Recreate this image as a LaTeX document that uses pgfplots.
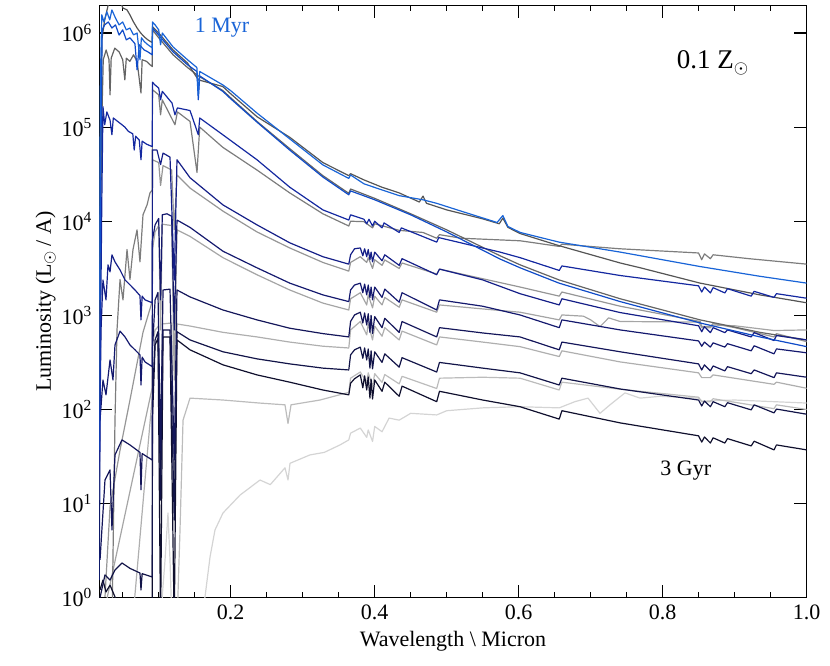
\documentclass[border=0pt]{standalone}
\usepackage{fontspec}
\setmainfont{Liberation Serif}
\usepackage{pgfplots}
\pgfplotsset{compat=1.18}
\definecolor{cblueA}{RGB}{25,100,215}
\definecolor{cblueB}{RGB}{15,75,200}
\definecolor{cnavyA}{RGB}{20,40,160}
\definecolor{cnavyB}{RGB}{20,30,135}
\definecolor{cnavyC}{RGB}{20,25,110}
\definecolor{cnavyD}{RGB}{20,22,90}
\definecolor{cnavyE}{RGB}{18,20,72}
\definecolor{cnavyF}{RGB}{15,15,45}
\definecolor{cgreyA}{RGB}{85,85,85}
\definecolor{cgreyB}{RGB}{100,100,100}
\definecolor{cgreyC}{RGB}{125,125,125}
\definecolor{cgreyD}{RGB}{150,150,150}
\definecolor{cgreyE}{RGB}{165,165,165}
\definecolor{cgreyF}{RGB}{175,175,175}
\definecolor{cgreyG}{RGB}{188,188,188}
\definecolor{cgreyH}{RGB}{212,212,212}
\begin{document}
\begin{tikzpicture}[font=\fontsize{11}{13}\selectfont]
\begin{axis}[name=ax,
  scale only axis, width=353.7pt, height=296.1pt,
  xmin=0.0175, xmax=1.0, ymode=log, ymin=1, ymax=1.96e6,
  xtick={0.2,0.4,0.6,0.8,1.0}, xticklabels={0.2,0.4,0.6,0.8,1.0},
  minor xtick={0.05,0.1,0.15,0.25,0.3,0.35,0.45,0.5,0.55,0.65,0.7,0.75,0.85,0.9,0.95},
  ytick={1,10,100,1000,10000,100000,1000000},
  yticklabels={10\textsuperscript{0},10\textsuperscript{1},10\textsuperscript{2},10\textsuperscript{3},10\textsuperscript{4},10\textsuperscript{5},10\textsuperscript{6}},
  yminorticks=false,
  tick align=inside, major tick length=6.5pt, minor tick length=3pt,
  every tick/.style={black, line width=0.6pt},
  axis line style={line width=0.6pt},
  tick label style={font=\fontsize{11}{13}\selectfont},
  label style={font=\fontsize{11}{13}\selectfont},
  xlabel={Wavelength \textbackslash\ Micron},
  ylabel={Luminosity (L\textsubscript{$\odot$}\,/ A)},
  ylabel shift=-4pt, xlabel shift=-1pt,
  every axis plot/.append style={line width=0.6pt, line join=round, no markers},
]
% vlt grey
\addplot[cgreyH] coordinates {(0.1018,0.5) (0.1088,2.52) (0.1129,7.95) (0.1157,2.52) (0.1185,0.5) (0.1574,0.5) (0.1643,1.02) (0.1713,2.71) (0.1782,5.25) (0.1893,7.95) (0.2129,12.3) (0.2407,17.8) (0.255,15.9) (0.2754,24) (0.2796,17.8) (0.2824,26.8) (0.3101,32.9) (0.33,35) (0.3518,42) (0.364,47.5) (0.3665,56) (0.38,63.5) (0.3889,50.5) (0.391,60.6) (0.397,45.7) (0.4,66) (0.4102,58) (0.42,81) (0.434,77) (0.45,91) (0.4861,87.5) (0.5,97) (0.55,104) (0.6018,107) (0.6563,104) (0.678,121) (0.6963,132) (0.7129,91) (0.7268,112) (0.7476,150) (0.7685,132) (0.7963,138) (0.85,132) (0.8542,123) (0.9,126) (1.0,117)};
% Gd
\addplot[cgreyG] coordinates {(0.1254,0.5) (0.1296,5.25) (0.1338,77) (0.1435,132) (0.1893,126) (0.24,117) (0.2754,112) (0.2796,71) (0.2838,112) (0.324,126) (0.364,152) (0.3665,215) (0.38,250) (0.3889,194) (0.391,245) (0.397,176) (0.4,240) (0.4102,194) (0.414,235) (0.434,187) (0.438,225) (0.4861,167) (0.49,215) (0.55,220) (0.6018,215) (0.6563,161) (0.66,195) (0.741,164) (0.8498,135) (0.8542,121) (0.8662,121) (0.87,130) (0.9546,102) (0.958,112) (1.0,100)};
% Gc
\addplot[cgreyF] coordinates {(0.0643,0.62) (0.0911,137) (0.0913,485) (0.095,700) (0.1,770) (0.1026,10.9) (0.105,810) (0.118,830) (0.1216,6.7) (0.1254,810) (0.1435,770) (0.1893,660) (0.2365,590) (0.282,520) (0.328,470) (0.364,450) (0.3665,700) (0.38,860) (0.3889,620) (0.391,810) (0.397,548) (0.4,770) (0.4102,600) (0.414,740) (0.434,548) (0.438,680) (0.4861,485) (0.49,590) (0.55,520) (0.6018,465) (0.6563,365) (0.66,420) (0.741,320) (0.8498,245) (0.8542,218) (0.8662,218) (0.87,233) (0.9546,185) (0.958,195) (1.0,168)};
% Gb
\addplot[cgreyE] coordinates {(0.0226,0.62) (0.0911,172) (0.0913,4960) (0.095,7700) (0.1,9000) (0.1026,700) (0.105,9300) (0.118,9000) (0.1216,206) (0.1254,8100) (0.1435,6900) (0.1893,4100) (0.2365,2700) (0.282,1860) (0.328,1350) (0.364,1140) (0.3665,1500) (0.38,1740) (0.3889,1290) (0.391,1650) (0.397,1200) (0.4,1600) (0.4102,1290) (0.414,1550) (0.434,1220) (0.438,1460) (0.4861,1080) (0.49,1290) (0.55,1170) (0.6018,1080) (0.6563,895) (0.66,1010) (0.69,980) (0.70,895) (0.713,760) (0.725,940) (0.741,860) (0.8498,850) (0.8542,740) (0.8662,740) (0.87,790) (0.9,775) (0.9546,690) (1.0,700)};
% Ga
\addplot[cgreyD] coordinates {(0.0254,1.02) (0.0324,9.2) (0.0463,37) (0.0601,126) (0.0782,660) (0.0895,1290) (0.0911,1460) (0.0913,4.5e4) (0.1,4.2e4) (0.1026,2.4e4) (0.106,3.9e4) (0.118,3.5e4) (0.1216,8100) (0.1254,3.1e4) (0.1435,2.25e4) (0.1893,1.28e4) (0.2365,7700) (0.282,5200) (0.328,3650) (0.364,2950) (0.3665,3650) (0.38,4200) (0.3889,3650) (0.391,4100) (0.397,3150) (0.4,3900) (0.4102,3400) (0.414,3880) (0.434,3150) (0.438,3600) (0.4861,2750) (0.49,3100) (0.55,2450) (0.6018,2000) (0.6563,1600) (0.66,1770) (0.741,1250) (0.852,860) (0.8542,760) (0.8662,760) (0.87,820) (0.9,740) (0.9546,590) (0.958,640) (1.0,525)};
% grey3
\addplot[cgreyC] coordinates {(0.0351,0.5) (0.0393,77) (0.0421,700) (0.0463,2400) (0.0504,1460) (0.056,5000) (0.0601,2400) (0.0643,5000) (0.0699,8090) (0.074,3700) (0.0782,1.17e4) (0.0838,1.49e4) (0.0879,2.0e4) (0.0911,2.15e4) (0.0913,2.5e5) (0.1,2.2e5) (0.1026,1.35e5) (0.105,1.95e5) (0.1226,1.06e5) (0.126,1.45e5) (0.1435,1.15e5) (0.1532,3.3e4) (0.157,1.0e5) (0.189,6.1e4) (0.2365,3.5e4) (0.282,2.0e4) (0.328,1.2e4) (0.364,8900) (0.3665,1.0e4) (0.385,9900) (0.397,8500) (0.4,9400) (0.434,8000) (0.467,7600) (0.4861,6600) (0.49,7200) (0.52,6600) (0.602,6200) (0.6563,5400) (0.66,5700) (0.74,5100) (0.8498,4600) (0.8542,3900) (0.858,4500) (0.8662,4000) (0.87,4400) (0.92,4000) (1.0,3500)};
% dkgrey2
\addplot[cgreyB] coordinates {(0.0175,10.9) (0.019,5000) (0.021,1.19e5) (0.023,5.2e5) (0.027,6.6e5) (0.031,5.2e5) (0.0324,2.2e5) (0.034,5.4e5) (0.039,6.9e5) (0.045,6.3e5) (0.05,5.2e5) (0.053,3.18e5) (0.055,5.4e5) (0.06,5.0e5) (0.065,5.86e5) (0.07,5.0e5) (0.0754,2.3e5) (0.077,5.2e5) (0.083,5.0e5) (0.088,4.6e5) (0.0911,4.4e5) (0.0913,1.08e6) (0.1,8.9e5) (0.12,5.86e5) (0.14,4.3e5) (0.155,3.5e5) (0.189,2.45e5) (0.2,2.05e5) (0.2365,1.15e5) (0.282,5.9e4) (0.328,3.05e4) (0.364,1.98e4) (0.3665,2.2e4) (0.4,1.75e4) (0.45,1.2e4) (0.5,8100) (0.574,4300) (0.602,3440) (0.656,2380) (0.741,1500) (0.852,895) (0.935,660) (1.0,548)};
% dkgrey1
\addplot[cgreyA] coordinates {(0.0175,126) (0.019,5.7e4) (0.021,8.45e5) (0.025,1.38e6) (0.03,2.0e6) (0.034,2.3e6) (0.04,2.2e6) (0.046,2.3e6) (0.05,1.85e6) (0.056,1.76e6) (0.06,1.56e6) (0.065,1.31e6) (0.07,1.13e6) (0.075,1.0e6) (0.08,9.1e5) (0.085,8.45e5) (0.0911,7.9e5) (0.0913,1.17e6) (0.1,1.0e6) (0.12,6.6e5) (0.14,4.8e5) (0.155,3.18e5) (0.189,2.7e5) (0.2,2.26e5) (0.2365,1.29e5) (0.282,7.8e4) (0.328,4.2e4) (0.364,3.05e4) (0.3665,3.2e4) (0.385,2.75e4) (0.41,2.3e4) (0.434,2.0e4) (0.462,1.6e4) (0.4671,1.85e4) (0.472,1.55e4) (0.5,1.32e4) (0.55,1.06e4) (0.573,9400) (0.578,1.08e4) (0.585,8600) (0.602,7400) (0.656,5500) (0.741,3600) (0.769,3200) (0.852,2200) (0.935,1650) (1.0,1360)};
% row e (3 Gyr)
\addplot[cnavyF] coordinates {(0.0185,1.21) (0.0226,1.54) (0.0268,1.15) (0.0324,1.36) (0.0393,1.02) (0.0463,0.65) (0.06,0.3) (0.0911,0.3) (0.0913,77) (0.095,485) (0.099,570) (0.1026,0.5) (0.106,590) (0.1157,590) (0.1216,0.5) (0.1254,548) (0.1435,430) (0.1893,298) (0.2365,233) (0.282,195) (0.328,161) (0.364,143) (0.3665,190) (0.372,212) (0.38,233) (0.3835,170) (0.386,228) (0.3889,161) (0.391,222) (0.3934,132) (0.395,210) (0.397,129) (0.4,206) (0.4102,156) (0.414,195) (0.434,138) (0.438,177) (0.4861,121) (0.49,156) (0.55,126) (0.6018,107) (0.6563,79) (0.66,97) (0.741,72) (0.8498,52.5) (0.8542,45) (0.858,51) (0.8662,44) (0.87,50) (0.8863,44) (0.89,49) (0.9229,41) (0.927,46) (0.9546,37.2) (0.958,42) (1.0,37.2)};
% row d
\addplot[cnavyE] coordinates {(0.0185,1.0) (0.0254,1.75) (0.0324,1.54) (0.0393,1.97) (0.049,2.34) (0.0601,2.05) (0.074,1.83) (0.0754,1.21) (0.077,1.8) (0.0911,1.66) (0.0913,126) (0.095,548) (0.099,670) (0.1026,10.9) (0.106,700) (0.1157,700) (0.1216,6.7) (0.1254,670) (0.1435,548) (0.1893,410) (0.2365,345) (0.282,305) (0.328,275) (0.364,263) (0.3665,380) (0.372,430) (0.38,460) (0.3835,350) (0.386,450) (0.3889,336) (0.391,440) (0.3934,275) (0.395,420) (0.397,270) (0.4,410) (0.4102,316) (0.414,390) (0.434,282) (0.438,355) (0.4861,250) (0.49,316) (0.55,275) (0.6018,245) (0.6563,182) (0.66,215) (0.741,165) (0.8498,126) (0.8542,109) (0.858,123) (0.8662,107) (0.87,121) (0.8863,107) (0.89,118) (0.9229,99) (0.927,112) (0.9546,92) (0.958,101) (1.0,89)};
% row c
\addplot[cnavyD] coordinates {(0.0185,2.52) (0.0254,17.8) (0.0324,22.8) (0.0351,5.25) (0.0393,32.9) (0.049,47.5) (0.0601,42) (0.074,35) (0.0754,14) (0.077,34) (0.0911,29) (0.0913,430) (0.095,1460) (0.099,1750) (0.1026,37) (0.106,1860) (0.1157,1900) (0.1216,29) (0.1254,1860) (0.1435,1570) (0.1893,1140) (0.2365,895) (0.282,730) (0.328,640) (0.364,590) (0.3665,860) (0.372,1010) (0.38,1080) (0.3835,830) (0.386,1060) (0.3889,790) (0.391,1040) (0.3934,660) (0.395,1000) (0.397,640) (0.4,970) (0.4102,740) (0.414,930) (0.434,660) (0.438,860) (0.4861,590) (0.49,740) (0.55,650) (0.6018,590) (0.6563,430) (0.66,520) (0.741,410) (0.8498,305) (0.8542,263) (0.858,298) (0.8662,257) (0.87,290) (0.8863,257) (0.89,285) (0.9229,240) (0.927,263) (0.9546,218) (0.958,245) (1.0,220)};
% row b
\addplot[cnavyC] coordinates {(0.0185,77) (0.0226,206) (0.0268,143) (0.0324,336) (0.0365,206) (0.0393,485) (0.0463,680) (0.0532,590) (0.0601,485) (0.0671,430) (0.074,380) (0.0754,182) (0.077,360) (0.081,320) (0.0911,285) (0.0913,6300) (0.095,9150) (0.1,1.07e4) (0.1026,1460) (0.105,1.17e4) (0.1115,1.2e4) (0.118,1.13e4) (0.1216,700) (0.1254,1.03e4) (0.1435,8600) (0.1893,4800) (0.2365,3200) (0.282,2200) (0.328,1650) (0.364,1400) (0.3665,1860) (0.372,2100) (0.38,2200) (0.3835,1740) (0.386,2150) (0.3889,1650) (0.391,2100) (0.3934,1550) (0.395,2000) (0.397,1460) (0.4,2000) (0.4102,1550) (0.414,1900) (0.434,1380) (0.438,1740) (0.4861,1140) (0.49,1460) (0.55,1250) (0.6018,1010) (0.6563,740) (0.66,895) (0.741,700) (0.8498,535) (0.8542,470) (0.858,520) (0.8662,460) (0.87,510) (0.8863,460) (0.89,500) (0.9229,420) (0.927,475) (0.9546,390) (0.958,440) (1.0,400)};
% row a
\addplot[cnavyB] coordinates {(0.0175,22.8) (0.0199,700) (0.0226,2380) (0.0268,1460) (0.0296,3440) (0.0324,2900) (0.0351,4390) (0.0393,3700) (0.0463,3040) (0.0532,2380) (0.0601,2110) (0.0671,1860) (0.074,1620) (0.0754,895) (0.077,1600) (0.081,1460) (0.0911,1360) (0.0913,5.7e4) (0.0976,5.7e4) (0.1026,4.0e4) (0.106,5.3e4) (0.1157,4.8e4) (0.1216,2380) (0.1254,4.5e4) (0.1435,2.9e4) (0.1893,1.49e4) (0.2365,9150) (0.282,5900) (0.328,4200) (0.364,3500) (0.3665,4400) (0.372,5100) (0.38,5200) (0.3835,4300) (0.386,5100) (0.3889,4200) (0.391,5000) (0.3934,3900) (0.395,4700) (0.397,3700) (0.4,4700) (0.4102,3800) (0.414,4400) (0.434,3400) (0.438,4000) (0.4861,2700) (0.49,3100) (0.55,2380) (0.6018,1700) (0.6563,1290) (0.66,1500) (0.741,1070) (0.8498,775) (0.8542,670) (0.858,760) (0.8662,655) (0.87,740) (0.8863,655) (0.89,700) (0.9229,590) (0.927,655) (0.9546,540) (0.958,610) (1.0,548)};
% navy1
\addplot[cnavyA] coordinates {(0.0175,1.54) (0.019,430) (0.021,1.7e4) (0.0226,1.65e5) (0.025,1.06e5) (0.028,1.45e5) (0.0324,1.19e5) (0.035,8.3e4) (0.037,1.25e5) (0.043,1.15e5) (0.049,1.06e5) (0.053,1.0e5) (0.058,9.0e4) (0.064,8.5e4) (0.066,5.7e4) (0.068,8.0e4) (0.073,7.3e4) (0.0754,4.5e4) (0.077,7.1e4) (0.083,6.6e4) (0.0911,6.2e4) (0.0913,3.0e5) (0.095,2.8e5) (0.1,2.6e5) (0.1026,1.95e5) (0.105,2.4e5) (0.1185,1.8e5) (0.1226,1.35e5) (0.126,1.6e5) (0.1435,1.5e5) (0.155,8.3e4) (0.157,1.25e5) (0.189,8.3e4) (0.2365,4.5e4) (0.282,2.3e4) (0.328,1.32e4) (0.364,1.03e4) (0.3665,1.17e4) (0.385,1.05e4) (0.3889,9400) (0.392,1.05e4) (0.397,8900) (0.4,1.0e4) (0.4102,8500) (0.413,9600) (0.434,7600) (0.437,8500) (0.4861,6000) (0.489,6700) (0.574,4700) (0.602,4100) (0.6563,3000) (0.66,3350) (0.741,2650) (0.8498,2060) (0.8542,1770) (0.858,2000) (0.8662,1730) (0.87,1970) (0.8863,1730) (0.89,1920) (0.9229,1600) (0.927,1800) (0.9546,1550) (0.958,1700) (1.0,1520)};
% blue2
\addplot[cblueB] coordinates {(0.0175,37) (0.019,1.7e4) (0.0215,1.08e6) (0.025,1.22e6) (0.03,1.31e6) (0.035,1.13e6) (0.04,1.22e6) (0.045,9.5e5) (0.05,1.08e6) (0.055,8.45e5) (0.06,8.9e5) (0.067,7.7e5) (0.07,4.06e5) (0.073,7.5e5) (0.08,6.6e5) (0.085,6.3e5) (0.0911,5.86e5) (0.0913,1.13e6) (0.1,9.5e5) (0.12,6.3e5) (0.14,4.6e5) (0.153,3.9e5) (0.155,1.95e5) (0.157,3.5e5) (0.189,2.4e5) (0.2,2.0e5) (0.2365,1.13e5) (0.282,5.7e4) (0.328,2.95e4) (0.364,1.91e4) (0.3665,2.1e4) (0.4,1.69e4) (0.45,1.17e4) (0.5,7700) (0.574,3970) (0.602,3200) (0.656,2200) (0.741,1400) (0.852,830) (0.935,590) (1.0,465)};
% blue1 (1 Myr)
\addplot[cblueA] coordinates {(0.0175,1460) (0.019,3.18e5) (0.021,1.56e6) (0.024,1.31e6) (0.028,1.68e6) (0.032,1.38e6) (0.035,1.76e6) (0.04,1.44e6) (0.045,1.22e6) (0.05,1.31e6) (0.055,1.08e6) (0.06,1.13e6) (0.065,9.55e5) (0.07,1.0e6) (0.074,5.2e5) (0.076,8.9e5) (0.08,8.1e5) (0.085,7.5e5) (0.0911,6.95e5) (0.0913,1.31e6) (0.095,1.22e6) (0.1,1.08e6) (0.1026,7.5e5) (0.105,1.0e6) (0.12,7.1e5) (0.14,5.2e5) (0.153,4.3e5) (0.155,2.2e5) (0.157,3.9e5) (0.189,2.81e5) (0.2,2.44e5) (0.2365,1.41e5) (0.282,7.5e4) (0.328,3.97e4) (0.364,2.85e4) (0.3665,3.1e4) (0.385,2.5e4) (0.4102,2.15e4) (0.434,1.87e4) (0.467,1.69e4) (0.4861,1.55e4) (0.52,1.28e4) (0.57,9700) (0.578,1.15e4) (0.585,8800) (0.602,7600) (0.656,6000) (0.741,4700) (0.852,3300) (0.935,2600) (1.0,2200)};
\node[text=cblueA] at (axis cs:0.188,1.15e6) {1 Myr};
\node at (axis cs:0.832,22.2) {3 Gyr};
\node[font=\fontsize{13.5}{15}\selectfont] at (axis cs:0.870,4.8e5) {0.1 Z\textsubscript{$\odot$}};
\end{axis}
\pgfresetboundingbox
\path ([shift={(-49.65pt,-33.65pt)}]ax.south west) rectangle ([shift={(11.65pt,2.75pt)}]ax.north east);
\end{tikzpicture}
\end{document}
